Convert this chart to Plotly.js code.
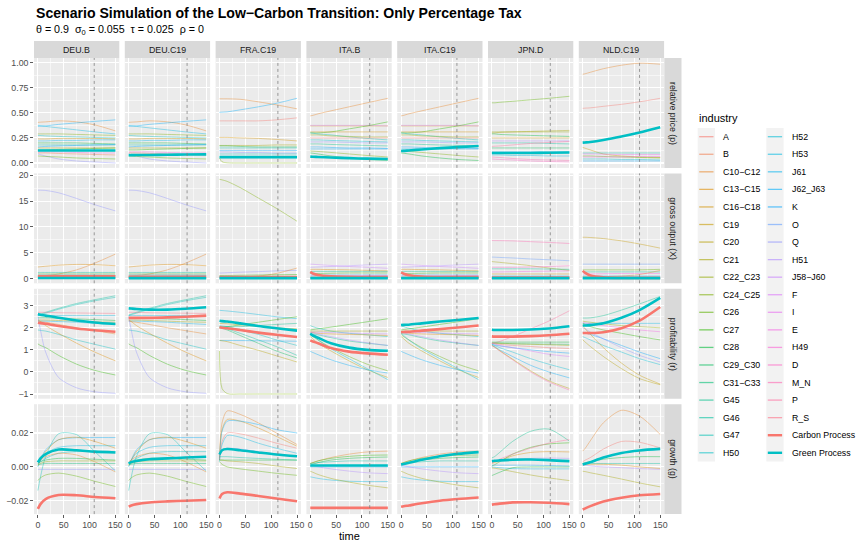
<!DOCTYPE html>
<html><head><meta charset="utf-8">
<script src="https://cdn.plot.ly/plotly-3.0.1.min.js"></script>
<style>html,body{margin:0;padding:0;background:#fff;}#chart{width:859px;height:545px;}</style>
</head><body><div id="chart"></div>
<script>
// ---------------- DATA ----------------
const T = [0, 5, 15, 40, 75, 110, 150];
const panels = ['DEU.B', 'DEU.C19', 'FRA.C19', 'ITA.B', 'ITA.C19', 'JPN.D', 'NLD.C19'];
const panelGroup = ['DEU', 'DEU', 'FRA', 'ITA', 'ITA', 'JPN', 'NLD'];
const metrics = ['relative price (p)', 'gross output (X)', 'profitability (r)', 'growth (g)'];
const industries = ['A','B','C10−C12','C13−C15','C16−C18','C19','C20','C21','C22_C23','C24_C25','C26','C27','C28','C29_C30','C31−C33','G45','G46','G47','H50','H52','H53','J61','J62_J63','K','O','Q','H51','J58−J60','F','I','E','H49','D','M_N','P','R_S'];
const processes = ['Carbon Process', 'Green Process'];
const vlineT = [109, 113, 113, 115, 108, 113, 110];

// relative price (p)
const price_DEU = [
  ['C10−C12', 0.405, 0.407, 0.41, 0.42, 0.41, 0.38, 0.32],
  ['J62_J63', 0.365, 0.367, 0.37, 0.385, 0.40, 0.415, 0.43],
  ['H53', 0.375, 0.372, 0.365, 0.35, 0.33, 0.31, 0.29],
  ['C24_C25', 0.29, 0.29, 0.29, 0.29, 0.285, 0.28, 0.275],
  ['H50', 0.275, 0.274, 0.27, 0.265, 0.26, 0.255, 0.25],
  ['C16−C18', 0.24, 0.24, 0.24, 0.245, 0.245, 0.245, 0.24],
  ['J61', 0.22, 0.22, 0.22, 0.225, 0.225, 0.23, 0.23],
  ['C28', 0.20, 0.20, 0.20, 0.20, 0.20, 0.195, 0.19],
  ['G46', 0.18, 0.18, 0.18, 0.18, 0.18, 0.18, 0.18],
  ['K', 0.16, 0.162, 0.165, 0.17, 0.175, 0.18, 0.185],
  ['C21', 0.15, 0.15, 0.15, 0.15, 0.15, 0.15, 0.15],
  ['C27', 0.13, 0.13, 0.13, 0.135, 0.14, 0.145, 0.15],
  ['E', 0.11, 0.11, 0.11, 0.11, 0.105, 0.10, 0.10],
  ['B', 0.10, 0.10, 0.10, 0.095, 0.09, 0.085, 0.08],
  ['Q', 0.09, 0.083, 0.07, 0.04, 0.02, 0.01, 0.0],
  ['C26', 0.07, 0.068, 0.065, 0.06, 0.05, 0.045, 0.04]
];
const price_FRA = [
  ['C10−C12', 0.64, 0.64, 0.64, 0.635, 0.61, 0.58, 0.54],
  ['J62_J63', 0.505, 0.507, 0.51, 0.53, 0.56, 0.595, 0.645],
  ['A', 0.42, 0.42, 0.42, 0.42, 0.42, 0.43, 0.45],
  ['C16−C18', 0.255, 0.255, 0.255, 0.25, 0.245, 0.235, 0.22],
  ['C21', 0.175, 0.175, 0.175, 0.175, 0.175, 0.18, 0.18],
  ['C28', 0.17, 0.17, 0.17, 0.165, 0.16, 0.16, 0.16],
  ['G47', 0.15, 0.15, 0.15, 0.15, 0.15, 0.15, 0.15],
  ['K', 0.125, 0.125, 0.125, 0.125, 0.125, 0.125, 0.125],
  ['Q', 0.11, 0.11, 0.11, 0.105, 0.105, 0.10, 0.10],
  ['H50', 0.09, 0.09, 0.09, 0.09, 0.09, 0.09, 0.09],
  ['C24_C25', 0.05, 0.012, 0.002, 0.0, 0.0, 0.0, 0.0]
];
const price_ITA = [
  ['C10−C12', 0.47, 0.475, 0.49, 0.52, 0.56, 0.60, 0.645],
  ['C13−C15', 0.37, 0.37, 0.37, 0.37, 0.37, 0.37, 0.37],
  ['J58−J60', 0.375, 0.375, 0.375, 0.375, 0.375, 0.375, 0.37],
  ['C27', 0.30, 0.30, 0.30, 0.31, 0.34, 0.37, 0.41],
  ['C16−C18', 0.31, 0.31, 0.31, 0.31, 0.31, 0.31, 0.31],
  ['G47', 0.30, 0.297, 0.29, 0.28, 0.26, 0.245, 0.23],
  ['C22_C23', 0.28, 0.28, 0.28, 0.27, 0.265, 0.26, 0.26],
  ['A', 0.25, 0.25, 0.25, 0.25, 0.25, 0.25, 0.25],
  ['H52', 0.23, 0.23, 0.23, 0.225, 0.22, 0.215, 0.21],
  ['Q', 0.21, 0.21, 0.21, 0.21, 0.205, 0.20, 0.20],
  ['G45', 0.19, 0.19, 0.19, 0.185, 0.18, 0.175, 0.17],
  ['K', 0.16, 0.16, 0.16, 0.155, 0.15, 0.15, 0.145],
  ['J62_J63', 0.14, 0.14, 0.14, 0.14, 0.14, 0.14, 0.14],
  ['C24_C25', 0.12, 0.118, 0.115, 0.105, 0.09, 0.075, 0.06],
  ['C28', 0.10, 0.097, 0.09, 0.07, 0.05, 0.035, 0.025]
];
const price_JPN = [
  ['C26', 0.60, 0.60, 0.605, 0.615, 0.63, 0.645, 0.665],
  ['C22_C23', 0.31, 0.31, 0.31, 0.31, 0.31, 0.31, 0.31],
  ['C21', 0.30, 0.30, 0.305, 0.31, 0.315, 0.32, 0.325],
  ['C28', 0.29, 0.29, 0.285, 0.28, 0.275, 0.27, 0.265],
  ['C16−C18', 0.25, 0.25, 0.25, 0.25, 0.25, 0.25, 0.25],
  ['H51', 0.22, 0.22, 0.22, 0.22, 0.22, 0.22, 0.22],
  ['G46', 0.20, 0.20, 0.20, 0.20, 0.20, 0.195, 0.19],
  ['P', 0.165, 0.167, 0.17, 0.18, 0.195, 0.205, 0.215],
  ['C29_C30', 0.15, 0.15, 0.15, 0.15, 0.15, 0.15, 0.15],
  ['K', 0.11, 0.11, 0.11, 0.11, 0.11, 0.11, 0.11],
  ['H53', 0.08, 0.08, 0.08, 0.075, 0.075, 0.07, 0.07],
  ['M_N', 0.06, 0.058, 0.055, 0.045, 0.035, 0.03, 0.025],
  ['D', 0.04, 0.038, 0.035, 0.03, 0.02, 0.015, 0.01]
];
const price_NLD = [
  ['C10−C12', 0.885, 0.89, 0.905, 0.94, 0.975, 0.995, 0.985],
  ['A', 0.545, 0.547, 0.55, 0.565, 0.585, 0.61, 0.645],
  ['C19', 0.155, 0.147, 0.13, 0.09, 0.07, 0.06, 0.055],
  ['G46', 0.10, 0.10, 0.10, 0.10, 0.10, 0.10, 0.10],
  ['I', 0.09, 0.09, 0.09, 0.088, 0.085, 0.085, 0.085],
  ['C26', 0.07, 0.07, 0.07, 0.065, 0.06, 0.055, 0.05],
  ['E', 0.06, 0.06, 0.06, 0.06, 0.06, 0.065, 0.065],
  ['H52', 0.04, 0.04, 0.04, 0.04, 0.035, 0.035, 0.03],
  ['K', 0.02, 0.02, 0.02, 0.02, 0.02, 0.02, 0.02]
];
const green_price = [
  [0.125, 0.125, 0.125, 0.125, 0.125, 0.125, 0.125],
  [0.078, 0.078, 0.079, 0.08, 0.082, 0.084, 0.086],
  [0.058, 0.058, 0.058, 0.058, 0.058, 0.058, 0.058],
  [0.063, 0.062, 0.06, 0.055, 0.048, 0.043, 0.04],
  [0.12, 0.121, 0.125, 0.135, 0.148, 0.158, 0.17],
  [0.10, 0.10, 0.10, 0.10, 0.10, 0.102, 0.105],
  [0.203, 0.205, 0.21, 0.23, 0.265, 0.305, 0.357]
];

// gross output (X)
const output_DEU = [
  ['Q', 17.1, 17.1, 17.05, 16.6, 15.5, 14.3, 13.1],
  ['C13−C15', 2.25, 2.3, 2.4, 2.6, 2.75, 2.7, 2.5],
  ['C10−C12', 0.5, 0.55, 0.6, 0.9, 1.7, 3.0, 4.75],
  ['G46', 1.2, 1.2, 1.2, 1.2, 1.2, 1.2, 1.2],
  ['C27', 0.9, 0.9, 0.9, 0.9, 0.9, 0.9, 0.9],
  ['O', 0.7, 0.7, 0.7, 0.7, 0.7, 0.7, 0.65],
  ['H52', 0.5, 0.5, 0.5, 0.5, 0.55, 0.55, 0.6],
  ['C21', 0.3, 0.3, 0.3, 0.3, 0.3, 0.3, 0.3]
];
const output_FRA = [
  ['C24_C25', 19.2, 19.1, 18.8, 17.6, 15.6, 13.6, 11.1],
  ['Q', 1.1, 1.1, 1.15, 1.25, 1.35, 1.5, 1.6],
  ['C10−C12', 0.3, 0.3, 0.3, 0.35, 0.5, 1.0, 2.05],
  ['C27', 0.6, 0.6, 0.6, 0.65, 0.7, 0.75, 0.8],
  ['H52', 0.4, 0.4, 0.4, 0.4, 0.4, 0.4, 0.4]
];
const output_ITA = [
  ['J58−J60', 2.8, 2.78, 2.7, 2.55, 2.35, 2.2, 2.0],
  ['H51', 2.2, 2.22, 2.25, 2.35, 2.5, 2.65, 2.8],
  ['C13−C15', 1.8, 1.8, 1.8, 1.75, 1.7, 1.6, 1.5],
  ['G45', 1.4, 1.4, 1.4, 1.4, 1.4, 1.4, 1.4],
  ['C27', 1.0, 1.0, 1.0, 1.05, 1.1, 1.1, 1.1],
  ['K', 0.7, 0.7, 0.7, 0.7, 0.7, 0.7, 0.7],
  ['E', 0.5, 0.5, 0.5, 0.5, 0.55, 0.6, 0.6],
  ['C21', 0.3, 0.3, 0.3, 0.3, 0.3, 0.3, 0.3]
];
const output_JPN = [
  ['M_N', 7.37, 7.36, 7.35, 7.3, 7.15, 7.0, 6.8],
  ['O', 4.17, 4.15, 4.1, 4.0, 3.8, 3.65, 3.46],
  ['C21', 3.3, 3.25, 3.15, 2.9, 2.5, 2.05, 1.6],
  ['D', 2.2, 2.2, 2.2, 2.2, 2.25, 2.35, 2.5],
  ['G46', 1.9, 1.9, 1.9, 1.9, 1.9, 1.85, 1.8],
  ['E', 1.3, 1.3, 1.3, 1.35, 1.4, 1.45, 1.5],
  ['C16−C18', 0.9, 0.9, 0.9, 0.9, 0.9, 0.9, 0.9],
  ['K', 0.5, 0.5, 0.5, 0.5, 0.5, 0.5, 0.5]
];
const output_NLD = [
  ['C19', 8.0, 8.0, 7.95, 7.75, 7.3, 6.7, 5.9],
  ['O', 2.8, 2.8, 2.8, 2.8, 2.8, 2.8, 2.8],
  ['C26', 1.7, 1.7, 1.7, 1.7, 1.7, 1.7, 1.8],
  ['G46', 1.3, 1.3, 1.3, 1.3, 1.3, 1.3, 1.3],
  ['E', 0.9, 0.9, 0.9, 0.95, 1.0, 1.0, 1.0],
  ['K', 0.5, 0.5, 0.5, 0.5, 0.5, 0.5, 0.5],
  ['C10−C12', 0.4, 0.4, 0.4, 0.4, 0.5, 0.8, 1.6]
];
const carbon_output = [
  [0.45, 0.45, 0.45, 0.45, 0.45, 0.45, 0.45],
  [0.35, 0.35, 0.35, 0.35, 0.35, 0.35, 0.35],
  [0.3, 0.3, 0.3, 0.3, 0.3, 0.3, 0.3],
  [1.3, 1.0, 0.7, 0.45, 0.35, 0.3, 0.3],
  [1.2, 0.95, 0.65, 0.4, 0.3, 0.3, 0.3],
  [0.2, 0.2, 0.2, 0.2, 0.2, 0.2, 0.2],
  [1.5, 1.1, 0.6, 0.25, 0.15, 0.15, 0.15]
];
const green_output = [
  [0.12, 0.12, 0.12, 0.12, 0.12, 0.12, 0.12],
  [0.1, 0.1, 0.1, 0.1, 0.1, 0.1, 0.1],
  [0.1, 0.1, 0.1, 0.1, 0.1, 0.1, 0.1],
  [0.1, 0.1, 0.1, 0.1, 0.1, 0.1, 0.1],
  [0.1, 0.1, 0.1, 0.1, 0.1, 0.1, 0.1],
  [0.1, 0.1, 0.1, 0.1, 0.1, 0.1, 0.1],
  [0.1, 0.1, 0.1, 0.1, 0.1, 0.1, 0.1]
];

// profitability (r)
const profit_DEU = [
  ['G46', 2.58, 2.62, 2.7, 2.88, 3.1, 3.27, 3.45],
  ['G47', 2.55, 2.59, 2.66, 2.84, 3.05, 3.22, 3.38],
  ['R_S', 2.7, 2.7, 2.7, 2.68, 2.67, 2.66, 2.65],
  ['H53', 2.55, 2.55, 2.55, 2.55, 2.55, 2.55, 2.55],
  ['C28', 2.45, 2.45, 2.45, 2.43, 2.4, 2.37, 2.33],
  ['C21', 2.35, 2.35, 2.35, 2.33, 2.3, 2.27, 2.25],
  ['J61', 2.3, 2.3, 2.3, 2.28, 2.25, 2.2, 2.15],
  ['C10−C12', 2.3, 2.28, 2.25, 2.15, 2.0, 1.87, 1.72],
  ['H50', 1.9, 1.88, 1.85, 1.7, 1.45, 1.25, 1.03],
  ['C13−C15', 2.35, 2.28, 2.1, 1.75, 1.3, 0.9, 0.5],
  ['C27', 1.27, 1.2, 1.1, 0.75, 0.35, 0.07, -0.14],
  ['Q', 2.5, 1.9, 0.9, -0.25, -0.72, -0.9, -0.97]
];
const profit_FRA = [
  ['H53', 2.79, 2.78, 2.76, 2.7, 2.6, 2.5, 2.41],
  ['C27', 2.0, 2.02, 2.05, 2.13, 2.25, 2.37, 2.5],
  ['G45', 2.05, 2.05, 2.05, 2.05, 2.1, 2.15, 2.2],
  ['C21', 2.2, 2.19, 2.18, 2.13, 2.07, 2.0, 1.95],
  ['H50', 2.1, 2.08, 2.05, 1.9, 1.7, 1.45, 1.2],
  ['J62_J63', 1.42, 1.42, 1.42, 1.42, 1.41, 1.4, 1.39],
  ['C29_C30', 2.0, 1.97, 1.9, 1.65, 1.3, 0.95, 0.63],
  ['G46', 2.05, 2.02, 1.95, 1.75, 1.45, 1.15, 0.75],
  ['C20', 1.43, 1.41, 1.37, 1.2, 0.98, 0.73, 0.45],
  ['C24_C25', 0.95, -0.75, -0.98, -1.0, -1.0, -1.0, -1.0]
];
const profit_ITA = [
  ['C27', 1.9, 1.92, 1.95, 2.03, 2.15, 2.27, 2.41],
  ['G47', 2.1, 2.05, 1.98, 1.85, 1.75, 1.68, 1.6],
  ['C21', 1.85, 1.85, 1.85, 1.85, 1.85, 1.85, 1.85],
  ['J58−J60', 1.8, 1.8, 1.8, 1.78, 1.76, 1.74, 1.72],
  ['C13−C15', 1.8, 1.78, 1.75, 1.72, 1.7, 1.68, 1.65],
  ['G45', 1.75, 1.72, 1.68, 1.55, 1.4, 1.3, 1.2],
  ['H51', 1.8, 1.77, 1.72, 1.6, 1.45, 1.32, 1.2],
  ['C26', 1.7, 1.6, 1.45, 1.1, 0.7, 0.35, 0.05],
  ['C20', 1.6, 1.5, 1.3, 0.95, 0.5, 0.1, -0.25],
  ['J62_J63', 0.93, 0.88, 0.78, 0.55, 0.3, 0.1, -0.05],
  ['H52', 1.75, 1.65, 1.45, 1.05, 0.6, 0.15, -0.35]
];
const profit_JPN = [
  ['P', 1.3, 1.32, 1.38, 1.6, 1.95, 2.3, 2.77],
  ['C28', 1.35, 1.35, 1.35, 1.35, 1.35, 1.35, 1.35],
  ['C29_C30', 1.3, 1.3, 1.3, 1.28, 1.27, 1.26, 1.25],
  ['C21', 1.3, 1.3, 1.29, 1.27, 1.25, 1.23, 1.2],
  ['A', 1.3, 1.28, 1.25, 1.2, 1.15, 1.1, 1.06],
  ['K', 1.25, 1.22, 1.18, 1.1, 1.0, 0.92, 0.85],
  ['F', 1.3, 1.27, 1.2, 1.1, 0.95, 0.8, 0.7],
  ['H52', 1.25, 1.2, 1.1, 0.9, 0.6, 0.35, 0.1],
  ['J62_J63', 1.2, 1.15, 1.0, 0.7, 0.3, 0.0, -0.27],
  ['M_N', 1.2, 1.12, 0.95, 0.55, 0.0, -0.45, -0.82],
  ['C20', 1.2, 1.13, 0.97, 0.58, 0.05, -0.4, -0.75]
];
const profit_NLD = [
  ['G45', 2.44, 2.44, 2.45, 2.55, 2.8, 3.08, 3.42],
  ['H53', 2.2, 2.2, 2.2, 2.2, 2.2, 2.2, 2.2],
  ['C22_C23', 2.3, 2.28, 2.25, 2.18, 2.1, 2.05, 2.0],
  ['E', 2.25, 2.22, 2.18, 2.1, 2.0, 1.9, 1.82],
  ['C27', 2.2, 2.15, 2.05, 1.9, 1.75, 1.6, 1.45],
  ['K', 1.8, 1.77, 1.7, 1.5, 1.2, 0.9, 0.6],
  ['H52', 1.6, 1.55, 1.45, 1.2, 0.9, 0.6, 0.33],
  ['Q', 2.0, 1.95, 1.8, 1.5, 1.1, 0.75, 0.45],
  ['C20', 1.46, 1.35, 1.15, 0.7, 0.15, -0.3, -0.58],
  ['C19', 2.1, 1.95, 1.7, 1.1, 0.4, -0.15, -0.55]
];
const carbon_profit = [
  [2.23, 2.21, 2.18, 2.08, 1.97, 1.89, 1.82],
  [2.45, 2.45, 2.45, 2.45, 2.47, 2.5, 2.55],
  [2.02, 2.0, 1.98, 1.9, 1.78, 1.68, 1.58],
  [1.43, 1.38, 1.3, 1.08, 0.92, 0.84, 0.78],
  [1.8, 1.81, 1.82, 1.87, 1.94, 2.01, 2.1],
  [1.61, 1.6, 1.6, 1.6, 1.62, 1.66, 1.73],
  [1.76, 1.76, 1.76, 1.8, 1.98, 2.32, 2.94]
];
const green_profit = [
  [2.62, 2.59, 2.55, 2.45, 2.33, 2.24, 2.17],
  [2.88, 2.87, 2.85, 2.82, 2.82, 2.86, 2.93],
  [2.32, 2.3, 2.28, 2.2, 2.08, 1.98, 1.87],
  [1.73, 1.65, 1.55, 1.3, 1.1, 1.0, 0.96],
  [2.12, 2.13, 2.14, 2.2, 2.28, 2.35, 2.44],
  [1.91, 1.9, 1.9, 1.9, 1.92, 1.97, 2.07],
  [2.1, 2.1, 2.12, 2.2, 2.45, 2.8, 3.35]
];

// growth (g)
const growth_DEU = [
  ['G47', -0.014, -0.006, 0.006, 0.0195, 0.019, 0.009, -0.0024],
  ['J62_J63', 0.0, 0.004, 0.01, 0.016, 0.0172, 0.0173, 0.0173],
  ['C13−C15', 0.001, 0.004, 0.009, 0.016, 0.0175, 0.015, 0.011],
  ['H53', 0.002, 0.004, 0.008, 0.0115, 0.0125, 0.0125, 0.0125],
  ['H50', 0.002, 0.003, 0.005, 0.008, 0.009, 0.009, 0.009],
  ['C10−C12', 0.003, 0.004, 0.006, 0.008, 0.007, 0.003, -0.003],
  ['C28', 0.002, 0.003, 0.004, 0.005, 0.005, 0.0045, 0.004],
  ['C22_C23', 0.001, 0.002, 0.003, 0.0035, 0.0035, 0.0035, 0.0035],
  ['C31−C33', 0.001, 0.0015, 0.002, 0.002, 0.002, 0.002, 0.002],
  ['Q', -0.0015, -0.0015, -0.0015, -0.0015, -0.0015, -0.0015, -0.0015],
  ['C26', -0.0081, -0.0065, -0.0048, -0.0037, -0.0055, -0.0085, -0.0116]
];
const growth_FRA = [
  ['C10−C12', 0.005, 0.026, 0.033, 0.031, 0.026, 0.02, 0.0132],
  ['C13−C15', 0.004, 0.022, 0.028, 0.027, 0.023, 0.018, 0.0122],
  ['J62_J63', 0.004, 0.021, 0.027, 0.027, 0.025, 0.022, 0.02],
  ['A', 0.004, 0.015, 0.020, 0.0195, 0.017, 0.014, 0.011],
  ['H53', 0.003, 0.013, 0.0185, 0.0175, 0.014, 0.011, 0.008],
  ['H51', 0.007, 0.01, 0.011, 0.0105, 0.009, 0.0075, 0.006],
  ['G46', 0.006, 0.006, 0.006, 0.0055, 0.005, 0.0045, 0.004],
  ['C28', 0.004, 0.004, 0.004, 0.004, 0.004, 0.004, 0.004],
  ['C21', 0.004, 0.004, 0.0035, 0.003, 0.002, 0.0005, -0.001],
  ['C26', 0.003, 0.0015, 0.0, -0.0012, -0.0025, -0.0038, -0.005]
];
const growth_ITA = [
  ['C10−C12', 0.002, 0.0025, 0.0035, 0.0055, 0.0075, 0.0088, 0.0093],
  ['C27', 0.002, 0.0025, 0.0035, 0.005, 0.0062, 0.0068, 0.007],
  ['C28', 0.001, 0.0015, 0.0025, 0.004, 0.005, 0.0055, 0.0058],
  ['G46', 0.002, 0.002, 0.0025, 0.003, 0.0035, 0.0035, 0.0035],
  ['K', 0.0, 0.0, 0.0, 0.0, 0.0, 0.0, 0.0],
  ['H51', 0.001, 0.0008, 0.0, -0.0012, -0.0025, -0.0035, -0.004],
  ['H53', -0.0059, -0.0062, -0.0068, -0.0078, -0.0085, -0.0087, -0.0087],
  ['C21', -0.0026, -0.0032, -0.0045, -0.0068, -0.009, -0.0108, -0.0124]
];
const growth_JPN = [
  ['G45', 0.0053, 0.006, 0.0085, 0.015, 0.021, 0.0223, 0.0152],
  ['C27', 0.0005, 0.0012, 0.003, 0.0075, 0.0115, 0.0135, 0.0142],
  ['P', 0.0024, 0.003, 0.0045, 0.0075, 0.011, 0.014, 0.0161],
  ['C13−C15', 0.002, 0.0025, 0.0035, 0.0065, 0.0085, 0.009, 0.0088],
  ['H51', 0.003, 0.0032, 0.0035, 0.0045, 0.005, 0.0052, 0.005],
  ['K', 0.001, 0.001, 0.001, 0.001, 0.001, 0.0008, 0.0005],
  ['H53', 0.0, -0.0002, -0.0005, -0.001, -0.0012, -0.0012, -0.0012],
  ['C21', -0.0006, -0.0008, -0.0013, -0.0028, -0.0048, -0.0065, -0.0081],
  ['C28', -0.0051, -0.0045, -0.0032, -0.0005, 0.0, 0.0, 0.0]
];
const growth_NLD = [
  ['C10−C12', 0.0093, 0.011, 0.0155, 0.026, 0.0334, 0.03, 0.0191],
  ['A', 0.003, 0.004, 0.0055, 0.0105, 0.015, 0.0145, 0.0112],
  ['C28', 0.002, 0.0025, 0.003, 0.0045, 0.0055, 0.006, 0.006],
  ['G46', 0.002, 0.002, 0.002, 0.002, 0.002, 0.002, 0.002],
  ['C13−C15', 0.001, 0.0012, 0.0015, 0.0015, 0.001, 0.0, -0.001],
  ['H51', 0.001, 0.001, 0.0005, 0.0, -0.0005, -0.001, -0.0015],
  ['C21', -0.0026, -0.0028, -0.0035, -0.005, -0.0072, -0.0095, -0.0118]
];
const carbon_growth = [
  [-0.0248, -0.022, -0.019, -0.0166, -0.0168, -0.0178, -0.0185],
  [-0.0235, -0.0228, -0.022, -0.021, -0.0204, -0.02, -0.0196],
  [-0.0187, -0.016, -0.015, -0.0158, -0.0172, -0.0187, -0.0203],
  [-0.0242, -0.0242, -0.0242, -0.0242, -0.0242, -0.0242, -0.0242],
  [-0.0236, -0.0233, -0.0228, -0.0215, -0.02, -0.019, -0.0181],
  [-0.0223, -0.0221, -0.0217, -0.021, -0.0209, -0.0212, -0.022],
  [-0.0252, -0.0245, -0.0232, -0.0205, -0.0183, -0.0168, -0.016]
];
const green_growth = [
  [0.0026, 0.005, 0.0075, 0.0102, 0.0098, 0.009, 0.0085],
  [0.002, 0.0028, 0.0035, 0.0045, 0.005, 0.0055, 0.006],
  [0.0073, 0.0098, 0.0105, 0.0098, 0.0085, 0.0073, 0.0063],
  [0.0008, 0.0008, 0.0008, 0.0008, 0.0008, 0.0008, 0.0008],
  [0.0014, 0.0017, 0.0024, 0.0042, 0.0063, 0.0077, 0.0087],
  [0.0034, 0.0036, 0.0038, 0.0042, 0.0043, 0.004, 0.0034],
  [0.0014, 0.0018, 0.0028, 0.0055, 0.0082, 0.0097, 0.0106]
];

const industryData = [
  {DEU: price_DEU, FRA: price_FRA, ITA: price_ITA, JPN: price_JPN, NLD: price_NLD},
  {DEU: output_DEU, FRA: output_FRA, ITA: output_ITA, JPN: output_JPN, NLD: output_NLD},
  {DEU: profit_DEU, FRA: profit_FRA, ITA: profit_ITA, JPN: profit_JPN, NLD: profit_NLD},
  {DEU: growth_DEU, FRA: growth_FRA, ITA: growth_ITA, JPN: growth_JPN, NLD: growth_NLD}
];
const carbonData = [null, carbon_output, carbon_profit, carbon_growth];
const greenData = [green_price, green_output, green_profit, green_growth];

// ---------------- STYLE / LAYOUT ----------------
const W = 859, H = 545;
const FONT = 'Liberation Sans, Arial, Helvetica, sans-serif';
function hcl(h, c, l) {
  const hr = h * Math.PI / 180;
  const u = c * Math.cos(hr), v = c * Math.sin(hr);
  const Xn = 95.047, Yn = 100, Zn = 108.883;
  const Y = Yn * Math.pow((l + 16) / 116, 3);
  const den = Xn + 15 * Yn + 3 * Zn;
  const un = 4 * Xn / den, vn = 9 * Yn / den;
  const up = u / (13 * l) + un, vp = v / (13 * l) + vn;
  const X = Y * 9 * up / (4 * vp);
  const Z = Y * (12 - 3 * up - 20 * vp) / (4 * vp);
  const x = X / 100, y = Y / 100, z = Z / 100;
  const lin = [3.240479 * x - 1.537150 * y - 0.498535 * z,
               -0.969256 * x + 1.875992 * y + 0.041556 * z,
               0.055648 * x - 0.204043 * y + 1.057311 * z];
  return lin.map(t => {
    let s = t <= 0.0031308 ? 12.92 * t : 1.055 * Math.pow(t, 1 / 2.4) - 0.055;
    return Math.round(Math.max(0, Math.min(1, s)) * 255);
  });
}
const indRGB = {};
industries.forEach((n, i) => { indRGB[n] = hcl(15 + 360 / industries.length * i, 100, 65); });
const CARBON = '#F8766D', GREEN = '#00BFC4';
const IND_ALPHA = 0.5;

const colX0 = c => 34 + 90.8 * c, PW = 85.3;
const rowY0 = r => 58 + 115.4 * r, PH = 109.9;
const yRanges = [[-0.049, 1.047], [-0.9, 20.35], [-1.213, 3.765], [-0.0279, 0.037]];
const yDt = [0.25, 5, 1, 0.02];
const yFmt = ['.2f', 'd', 'd', '.2f'];

const traces = [];
const layout = {
  width: W, height: H, margin: {l: 0, r: 0, t: 0, b: 0},
  paper_bgcolor: '#FFFFFF', plot_bgcolor: '#EBEBEB', showlegend: false,
  font: {family: FONT, color: '#4D4D4D', size: 8.8},
  shapes: [], annotations: []
};

for (let r = 0; r < 4; r++) {
  for (let c = 0; c < 7; c++) {
    const k = r * 7 + c + 1;
    const xa = 'x' + (k === 1 ? '' : k), ya = 'y' + (k === 1 ? '' : k);
    const group = industryData[r][panelGroup[c]];
    group.forEach(row => {
      const rgb = indRGB[row[0]];
      traces.push({x: T, y: row.slice(1), xaxis: xa, yaxis: ya, type: 'scatter', mode: 'lines',
        line: {color: `rgba(${rgb[0]},${rgb[1]},${rgb[2]},${IND_ALPHA})`, width: 0.8, shape: 'spline', smoothing: 0.8},
        hoverinfo: 'skip', name: row[0]});
    });
    if (carbonData[r]) traces.push({x: T, y: carbonData[r][c], xaxis: xa, yaxis: ya, type: 'scatter', mode: 'lines',
      line: {color: CARBON, width: 2.6, shape: 'spline', smoothing: 0.8}, hoverinfo: 'skip', name: processes[0]});
    traces.push({x: T, y: greenData[r][c], xaxis: xa, yaxis: ya, type: 'scatter', mode: 'lines',
      line: {color: GREEN, width: 2.6, shape: 'spline', smoothing: 0.8}, hoverinfo: 'skip', name: processes[1]});

    const x0 = colX0(c), y0 = rowY0(r);
    layout['xaxis' + (k === 1 ? '' : k)] = {
      domain: [x0 / W, (x0 + PW) / W], range: [-7.5, 157.5], anchor: ya,
      tick0: 0, dtick: 50, showgrid: true, gridcolor: '#FFFFFF', gridwidth: 1.1,
      minor: {dtick: 25, tick0: 0, showgrid: true, gridcolor: '#FFFFFF', gridwidth: 0.55},
      zeroline: false, showline: false, showticklabels: r === 3, ticks: r === 3 ? 'outside' : '',
      ticklen: 2.75, tickwidth: 0.8, tickcolor: '#333333', tickfont: {size: 8.8, color: '#4D4D4D'}, fixedrange: true
    };
    layout['yaxis' + (k === 1 ? '' : k)] = {
      domain: [1 - (y0 + PH) / H, 1 - y0 / H], range: yRanges[r], anchor: xa,
      tick0: 0, dtick: yDt[r], tickformat: yFmt[r], showgrid: true, gridcolor: '#FFFFFF', gridwidth: 1.1,
      minor: {dtick: yDt[r] / 2, tick0: 0, showgrid: true, gridcolor: '#FFFFFF', gridwidth: 0.55},
      zeroline: false, showline: false, showticklabels: c === 0, ticks: c === 0 ? 'outside' : '',
      ticklen: 2.75, tickwidth: 0.8, tickcolor: '#333333', tickfont: {size: 8.8, color: '#4D4D4D'}, fixedrange: true
    };
    layout.shapes.push({type: 'line', xref: xa, yref: ya + ' domain', x0: vlineT[c], x1: vlineT[c], y0: 0, y1: 1,
      line: {color: 'rgba(125,125,125,0.85)', width: 0.9, dash: '3px,3px'}});
  }
}

// strips
for (let c = 0; c < 7; c++) {
  const x0 = colX0(c);
  layout.shapes.push({type: 'rect', xref: 'paper', yref: 'paper', x0: x0 / W, x1: (x0 + PW) / W,
    y0: 1 - 58 / H, y1: 1 - 41 / H, fillcolor: '#D9D9D9', line: {width: 0}});
  layout.annotations.push({text: panels[c], xref: 'paper', yref: 'paper', x: (x0 + PW / 2) / W, y: 1 - 49.5 / H,
    showarrow: false, xanchor: 'center', yanchor: 'middle', font: {size: 8.8, color: '#1A1A1A', family: FONT}});
}
for (let r = 0; r < 4; r++) {
  const y0 = rowY0(r);
  layout.shapes.push({type: 'rect', xref: 'paper', yref: 'paper', x0: 664.3 / W, x1: 681.5 / W,
    y0: 1 - (y0 + PH) / H, y1: 1 - y0 / H, fillcolor: '#D9D9D9', line: {width: 0}});
  layout.annotations.push({text: metrics[r], xref: 'paper', yref: 'paper', x: 673 / W, y: 1 - (y0 + PH / 2) / H,
    showarrow: false, textangle: 90, xanchor: 'center', yanchor: 'middle', font: {size: 8.8, color: '#1A1A1A', family: FONT}});
}

// titles
layout.annotations.push({text: '<b>Scenario Simulation of the Low−Carbon Transition: Only Percentage Tax</b>',
  xref: 'paper', yref: 'paper', x: 34 / W, y: 1 - 13.3 / H, xanchor: 'left', yanchor: 'middle', showarrow: false,
  font: {size: 14.1, color: '#000000', family: FONT}});
layout.annotations.push({text: 'θ = 0.9  σ<sub>0</sub> = 0.055  τ = 0.025  ρ = 0',
  xref: 'paper', yref: 'paper', x: 34 / W, y: 1 - 30 / H, xanchor: 'left', yanchor: 'middle', showarrow: false,
  font: {size: 10.7, color: '#000000', family: FONT}});
layout.annotations.push({text: 'time', xref: 'paper', yref: 'paper', x: 349 / W, y: 1 - 535.5 / H,
  xanchor: 'center', yanchor: 'middle', showarrow: false, font: {size: 11, color: '#000000', family: FONT}});

// legend (drawn manually, two columns)
const legendItems = industries.concat(processes);
layout.annotations.push({text: 'industry', xref: 'paper', yref: 'paper', x: 697 / W, y: 1 - 118 / H,
  xanchor: 'left', yanchor: 'middle', showarrow: false, font: {size: 11, color: '#000000', family: FONT}});
const perCol = Math.ceil(legendItems.length / 2);
const legCols = [697.7, 766.3];
for (let j = 0; j < 2; j++) {
  layout.shapes.push({type: 'rect', xref: 'paper', yref: 'paper', x0: legCols[j] / W, x1: (legCols[j] + 17.3) / W,
    y0: 1 - (136.7 + 17.56 * (perCol - 1) + 8.6) / H, y1: 1 - (136.7 - 8.6) / H, fillcolor: '#F2F2F2', line: {width: 0}});
}
legendItems.forEach((name, i) => {
  const col = Math.floor(i / perCol), row = i % perCol;
  const yc = 136.7 + 17.56 * row;
  const xk = legCols[col];
  let color, width;
  if (name === processes[0]) { color = CARBON; width = 2.4; }
  else if (name === processes[1]) { color = GREEN; width = 2.4; }
  else { const g = indRGB[name]; color = `rgba(${g[0]},${g[1]},${g[2]},${IND_ALPHA + 0.1})`; width = 1.3; }
  layout.shapes.push({type: 'line', xref: 'paper', yref: 'paper', x0: (xk + 1.5) / W, x1: (xk + 15.8) / W,
    y0: 1 - yc / H, y1: 1 - yc / H, line: {color: color, width: width}});
  layout.annotations.push({text: name, xref: 'paper', yref: 'paper', x: (xk + 23.5) / W, y: 1 - yc / H,
    xanchor: 'left', yanchor: 'middle', showarrow: false, font: {size: 8.8, color: '#000000', family: FONT}});
});

Plotly.newPlot('chart', traces, layout, {staticPlot: true, displayModeBar: false});
</script>
</body></html>
